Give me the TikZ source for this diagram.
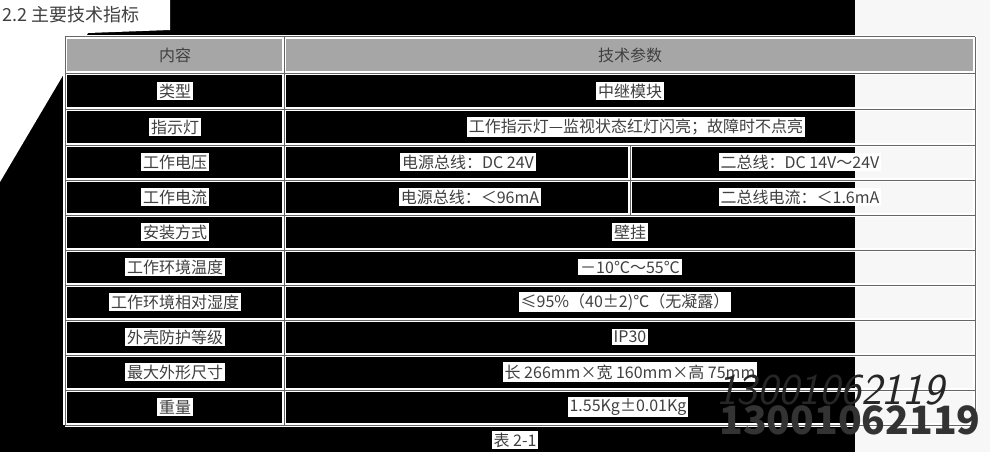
\documentclass[tikz,border=0pt]{standalone}
\usepackage{fontspec}
\setmainfont{Liberation Serif}
\newfontfamily\cjk{Noto Sans CJK SC}
\begin{document}
\begin{tikzpicture}[x=1pt,y=-1pt,
  cell/.style={fill=white,text=black!75,inner sep=2pt,font=\cjk\fontsize{16}{16}\selectfont},
  rule/.style={line width=3.2pt,white},
  gline/.style={line width=1pt,black!60}]
\useasboundingbox (0,0) rectangle (990,452);
\fill[black] (0,0) rectangle (990,452);
\fill[white] (0,0) -- (170,0) -- (170,30) -- (88,33) -- (65,72) -- (0,182) -- cycle;
\fill[black!3] (855,0) rectangle (990,452);
\fill[black!35] (65,37) rectangle (975,73);
\foreach \y in {37,73,109,145,180,215,250,285,320,355,390,425}{\draw[rule] (65,\y) -- (975,\y);}
\foreach \x in {65,284,975}{\draw[rule] (\x,37) -- (\x,425);}
\draw[rule] (630,145) -- (630,215);
\foreach \y in {37,73,109,145,180,215,250,285,320,355,390,425}{\draw[gline] (65,\y) -- (975,\y);}
\foreach \x in {65,284,975}{\draw[gline] (\x,37) -- (\x,425);}
\draw[gline] (630,145) -- (630,215);
\node[cell,anchor=west,font=\cjk\fontsize{18}{18}\selectfont] (title) at (0,15) {2.2 主要技术指标};
\node[cell,fill=none] (h1) at (175,55) {内容};
\node[cell,fill=none] (h2) at (630,55) {技术参数};
\node[cell] (a1) at (175,91) {类型};
\node[cell] (b1) at (630,91) {中继模块};
\node[cell] (a2) at (175,127) {指示灯};
\node[cell] (b2) at (636,127) {工作指示灯—监视状态红灯闪亮；故障时不点亮};
\node[cell] (a3) at (175,162) {工作电压};
\node[cell] (b3) at (468,162) {电源总线：DC 24V};
\node[cell] (c3) at (800,162) {二总线：DC 14V～24V};
\node[cell] (a4) at (175,197) {工作电流};
\node[cell] (b4) at (470,197) {电源总线：＜96mA};
\node[cell] (c4) at (800,197) {二总线电流：＜1.6mA};
\node[cell] (a5) at (175,232) {安装方式};
\node[cell] (b5) at (630,232) {壁挂};
\node[cell] (a6) at (175,267) {工作环境温度};
\node[cell] (b6) at (630,267) {－10℃～55℃};
\node[cell] (a7) at (175,302) {工作环境相对湿度};
\node[cell] (b7) at (625,302) {≤95\%（40±2)℃（无凝露）};
\node[cell] (a8) at (175,337) {外壳防护等级};
\node[cell] (b8) at (630,337) {IP30};
\node[cell] (a9) at (175,372) {最大外形尺寸};
\node[cell] (b9) at (630,372) {长 266mm×宽 160mm×高 75mm};
\node[cell] (a10) at (175,407) {重量};
\node[cell] (b10) at (628,407) {1.55Kg±0.01Kg};
\node[cell] (cap) at (515,440) {表 2-1};
\node[text=black!85,font=\fontsize{44}{44}\selectfont\sffamily\itshape] (w1) at (830,390) {13001062119};
\node[text=black!80,font=\cjk\bfseries\fontsize{39}{39}\selectfont] (w2) at (850,420) {13001062119};
\end{tikzpicture}
\end{document}
